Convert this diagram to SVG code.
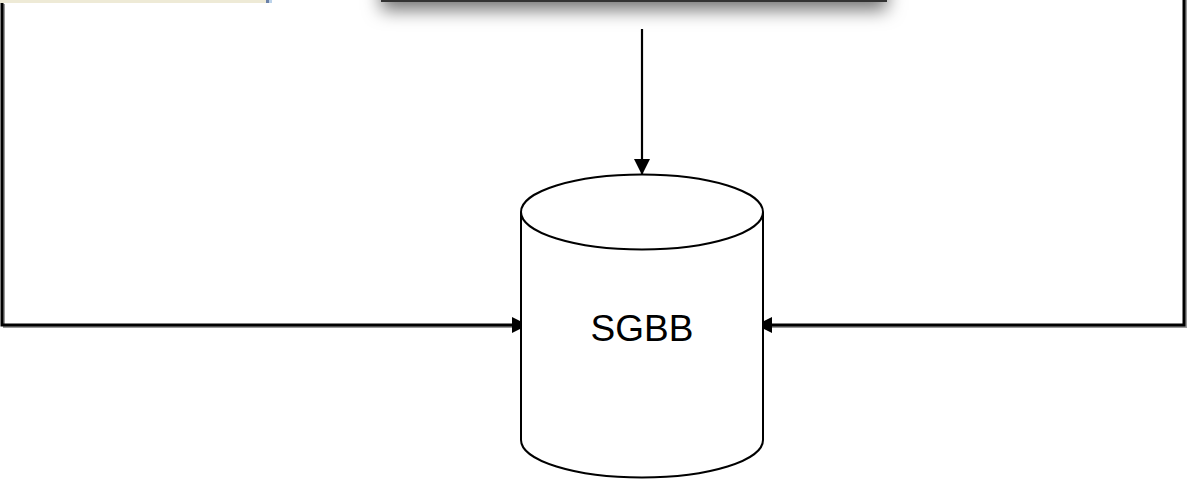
<svg xmlns="http://www.w3.org/2000/svg" width="1187" height="479" viewBox="0 0 1187 479">
<style>
.conn{fill:none;stroke:#000;stroke-width:2.2}
.outer{fill:none;stroke:#000;stroke-width:3}
.outerShadow{fill:none;stroke:#9a9a9a;stroke-width:2}
.shape{fill:#fff;stroke:#000;stroke-width:2}
.label{font-family:"Liberation Sans",Arial,sans-serif;font-size:37px;fill:#000}
</style>
<defs>
<marker id="arr" viewBox="0 0 16 16" refX="16" refY="8" markerWidth="16" markerHeight="16" markerUnits="userSpaceOnUse" orient="auto">
<path d="M0,0 L16,8 L0,16 Z" fill="#000"/>
</marker>
<filter id="shadow" x="-10%" y="-50%" width="120%" height="250%">
<feDropShadow dx="0" dy="8" stdDeviation="9" flood-color="#000" flood-opacity="0.55"/>
</filter>
</defs>
<rect width="1187" height="479" fill="#fff"/>
<g id="node-topleft">
<rect x="-2" y="-20" width="268" height="23" fill="#eeead6"/>
<rect x="266" y="-20" width="3" height="23" fill="#6a80a8"/>
<rect x="269" y="-20" width="3" height="23" fill="#bcd3ea"/>
</g>
<g id="node-topcenter">
<rect x="382" y="-40" width="504" height="41" fill="#fff" stroke="#333" stroke-width="2" filter="url(#shadow)"/>
</g>
<g id="connectors">
<path class="outerShadow" d="M4,4 V327 H520"/>
<path class="outer" d="M2,3 V325 H512"/>
<path class="conn" d="M512,325 H528" marker-end="url(#arr)"/>
<path class="outerShadow" d="M1186,0 V327 H772"/>
<path class="outer" d="M1184,0 V325 H772"/>
<path class="conn" d="M772,325 H756" marker-end="url(#arr)"/>
<path class="conn" d="M642,29 V175" marker-end="url(#arr)"/>
</g>
<g id="node-sgbb">
<path class="shape" d="M521,212 A121,37.5 0 0 1 763,212 V440 A121,37.5 0 0 1 521,440 Z"/>
<path class="shape" d="M521,212 A121,37.5 0 0 0 763,212"/>
<text class="label" x="642" y="341" text-anchor="middle">SGBB</text>
</g>
</svg>
